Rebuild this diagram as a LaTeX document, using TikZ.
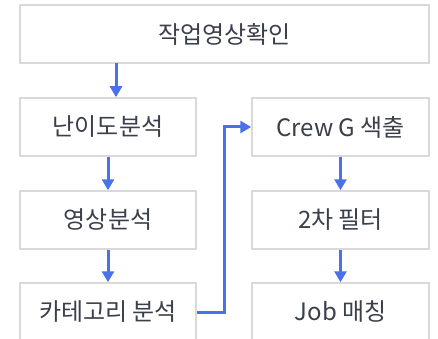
\documentclass[tikz,border=0pt]{standalone}
\usepackage{fontspec}
\setmainfont{Noto Sans CJK KR}
\usetikzlibrary{arrows.meta}
\definecolor{boxline}{HTML}{D9D9D9}
\definecolor{flow}{HTML}{4A72E8}
\definecolor{txt}{HTML}{3A3F4B}
\begin{document}
\begin{tikzpicture}[x=1pt,y=-1pt,
  stepbox/.style={draw=boxline,line width=1.5pt,fill=white,text=txt,font=\fontsize{24}{28}\selectfont,inner sep=0pt},
  flowarrow/.style={draw=flow,line width=3pt,-{Triangle[length=11pt,width=12pt]}}]
\useasboundingbox (0,0) rectangle (438,339);
\node[stepbox,minimum width=409pt,minimum height=58pt] (top) at (224.5,34) {작업영상확인};
\node[stepbox,minimum width=176pt,minimum height=58pt] (a1) at (108,127) {난이도분석};
\node[stepbox,minimum width=176pt,minimum height=58pt] (a2) at (108,220) {영상분석};
\node[stepbox,minimum width=176pt,minimum height=58pt] (a3) at (108,312) {카테고리 분석};
\node[stepbox,minimum width=177pt,minimum height=58pt] (b1) at (340.5,127) {Crew G 색출};
\node[stepbox,minimum width=177pt,minimum height=58pt] (b2) at (340.5,220) {2차 필터};
\node[stepbox,minimum width=177pt,minimum height=58pt] (b3) at (340.5,312) {Job 매칭};
\coordinate (tstart) at (116,63);
\draw[flowarrow] (tstart) -- (tstart |- a1.north);
\draw[flowarrow] (a1) -- (a2);
\draw[flowarrow] (a2) -- (a3);
\draw[flowarrow] (b1) -- (b2);
\draw[flowarrow] (b2) -- (b3);
\coordinate (bend) at (224,127);
\draw[flowarrow] (a3.east) -| (bend) -- (b1.west);
\end{tikzpicture}
\end{document}
